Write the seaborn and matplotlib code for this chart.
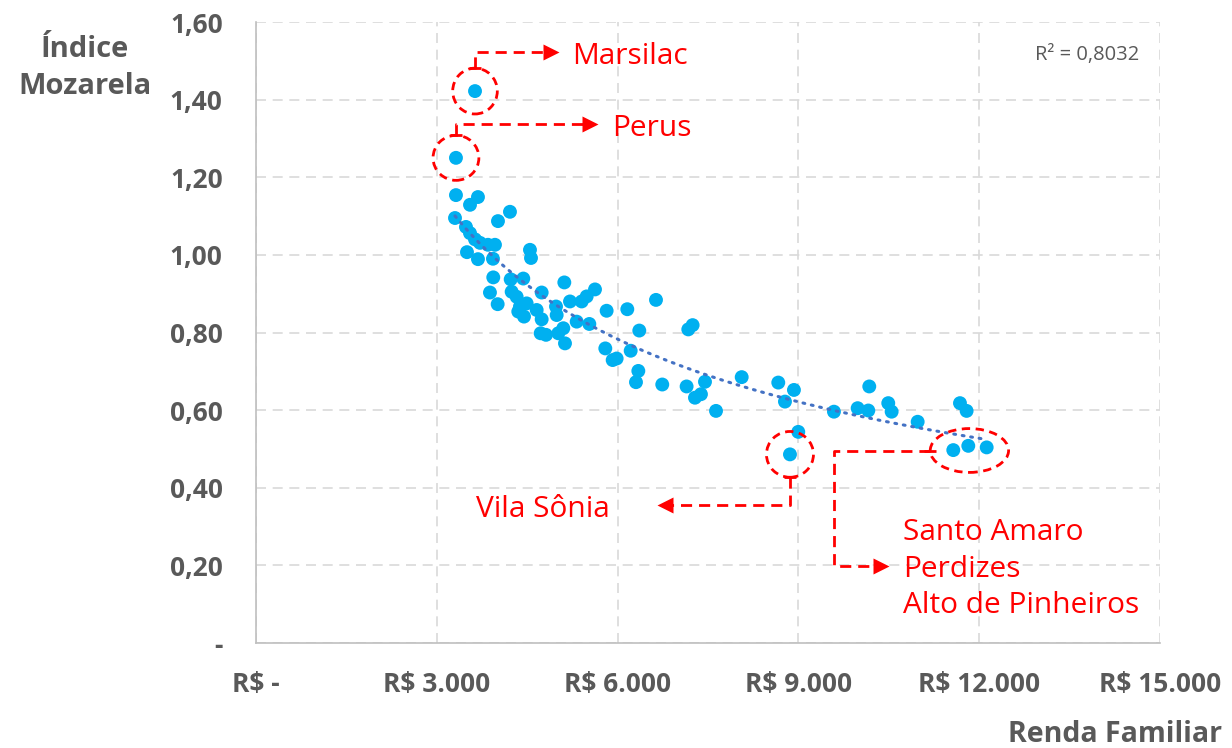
import numpy as np
import pandas as pd
import seaborn as sns
import matplotlib.pyplot as plt
from matplotlib.patches import Ellipse

# renda familiar (R$) e indice mozarela por distrito
renda = [3634, 3318, 3318, 3683, 3551, 3302, 4214, 4015, 3484, 3551, 3634, 3717, 3849, 3965,
         3501, 3683, 3932, 4546, 4563, 3937, 3882, 4010, 4226, 4435, 4242, 4325, 4380, 4491,
         4352, 4447, 4657, 4740, 4723, 4812, 5016, 5099, 5127, 4989, 4978, 4740, 5116, 5210,
         5321, 5404, 5487, 5625, 5531, 5818, 5796, 5918, 5984, 6161, 6637, 6360, 6217, 6344,
         6305, 6741, 7173, 7245, 7145, 7450, 7284, 7383, 7633, 8059, 8666, 8926, 8777, 8998,
         8860, 9590, 9983, 10160, 10176, 10491, 10547, 10979, 11681, 11791, 11570, 11819, 12124]
indice = [1.422, 1.250, 1.154, 1.149, 1.129, 1.095, 1.111, 1.087, 1.072, 1.056, 1.040, 1.031,
          1.026, 1.026, 1.007, 0.989, 0.990, 1.013, 0.992, 0.942, 0.903, 0.873, 0.937, 0.939,
          0.905, 0.892, 0.867, 0.875, 0.854, 0.841, 0.858, 0.834, 0.798, 0.794, 0.798, 0.811,
          0.772, 0.845, 0.867, 0.903, 0.929, 0.880, 0.828, 0.880, 0.893, 0.911, 0.822, 0.856,
          0.759, 0.729, 0.733, 0.860, 0.884, 0.805, 0.753, 0.701, 0.672, 0.666, 0.808, 0.819,
          0.661, 0.673, 0.632, 0.641, 0.598, 0.685, 0.671, 0.652, 0.622, 0.544, 0.486, 0.596,
          0.605, 0.599, 0.661, 0.618, 0.596, 0.570, 0.618, 0.598, 0.497, 0.508, 0.504]

x_ticks = [0, 3000, 6000, 9000, 12000, 15000]
x_labels = ['R$ -', 'R$ 3.000', 'R$ 6.000', 'R$ 9.000', 'R$ 12.000', 'R$ 15.000']
y_ticks = [0, 0.2, 0.4, 0.6, 0.8, 1.0, 1.2, 1.4, 1.6]
y_labels = ['-', '0,20', '0,40', '0,60', '0,80', '1,00', '1,20', '1,40', '1,60']

df = pd.DataFrame({'renda': renda, 'indice': indice})

sns.set_style('white')
plt.rcParams['font.family'] = ['Open Sans', 'DejaVu Sans']

GRAY = '#595959'
RED = '#FF0000'

fig = plt.figure(figsize=(12.32, 7.48), dpi=100)
ax = fig.add_axes([256/1232, 1 - 643/748, (1160 - 256)/1232, (643 - 22)/748])

# linha de tendencia (potencia), ajustada aos dados
b, log_a = np.polyfit(np.log(df.renda), np.log(df.indice), 1)
xs = np.linspace(df.renda.min(), df.renda.max(), 200)
ax.plot(xs, np.exp(log_a) * xs ** b, color='#4472C4', lw=2.2, ls=(0, (0.6, 2.2)),
        dash_capstyle='round', zorder=4)

sns.scatterplot(data=df, x='renda', y='indice', ax=ax, color='#00B0F0', s=100,
                edgecolor='none', linewidth=0, zorder=3)

ax.set_xlim(0, 15000)
ax.set_ylim(0, 1.6)
ax.set_xticks(x_ticks)
ax.set_xticklabels(x_labels)
ax.set_yticks(y_ticks)
ax.set_yticklabels(y_labels)
ax.set_xlabel('')
ax.set_ylabel('')
ax.grid(True, color='#D9D9D9', lw=1.2, ls=(0, (6, 4)))
ax.set_axisbelow(True)
for side in ['top', 'right']:
    ax.spines[side].set_visible(False)
for side in ['left', 'bottom']:
    ax.spines[side].set_color('#BFBFBF')
    ax.spines[side].set_linewidth(1.2)
ax.tick_params(axis='x', length=0, pad=20, labelsize=19, labelcolor=GRAY)
ax.tick_params(axis='y', length=0, pad=24, labelsize=19, labelcolor=GRAY)
for t in ax.get_xticklabels() + ax.get_yticklabels():
    t.set_fontweight('bold')

fig.text(85/1232, 1 - 68/748, 'Índice\nMozarela', ha='center', va='center',
         fontsize=21, fontweight='bold', color=GRAY, linespacing=1.4)
fig.text(1222/1232, 1 - 735/748, 'Renda Familiar', ha='right', va='center',
         fontsize=20.5, fontweight='bold', color=GRAY)

ax.text(14650, 1.515, 'R² = 0,8032', ha='right', va='center', fontsize=14.5, color=GRAY)

# destaques
dash = (0, (4, 2.5))


def seta(pts, ponta):
    px, py = zip(*pts)
    ax.plot(px, py, color=RED, lw=2, ls=dash, zorder=5)
    ax.plot(px[0], py[0], marker='_', ms=9, mew=2, color=RED, zorder=5)
    ax.plot(px[-1], py[-1], marker=ponta, ms=11, color=RED, mec='none', zorder=5)


def anel(cx, cy, w, h):
    ax.add_patch(Ellipse((cx, cy), w, h, fill=False, ec=RED, lw=2, ls=(0, (3, 2)), zorder=5))


# Marsilac
mx, my = renda[0], indice[0]
anel(mx, my, 740, 0.118)
seta([(mx, my + 0.060), (mx, 1.523), (4900, 1.523)], '>')
ax.text(5243, 1.512, 'Marsilac', color=RED, fontsize=21.5, va='center', ha='left')

# Perus
px_, py_ = renda[1], indice[1]
anel(px_, py_, 760, 0.116)
seta([(px_, py_ + 0.058), (px_, 1.337), (5540, 1.337)], '>')
ax.text(5907, 1.326, 'Perus', color=RED, fontsize=21.5, va='center', ha='left')

# Vila Sonia
vx, vy = renda[70], indice[70]
anel(vx, vy, 780, 0.118)
seta([(vx, vy - 0.058), (vx, 0.356), (6790, 0.356)], '<')
ax.text(5873, 0.343, 'Vila Sônia', color=RED, fontsize=21.5, va='center', ha='right')

# Santo Amaro / Perdizes / Alto de Pinheiros
gx = np.mean(renda[-3:])
gy = np.mean(indice[-3:])
anel(gx, gy - 0.007, 1300, 0.113)
seta([(gx - 650, 0.495), (9590, 0.495), (9590, 0.198), (10370, 0.198)], '>')
ax.text(10735, 0.190, 'Santo Amaro\nPerdizes\nAlto de Pinheiros', color=RED, fontsize=21.5,
        va='center', ha='left', linespacing=1.35)

fig.savefig('out.png', dpi=100)
